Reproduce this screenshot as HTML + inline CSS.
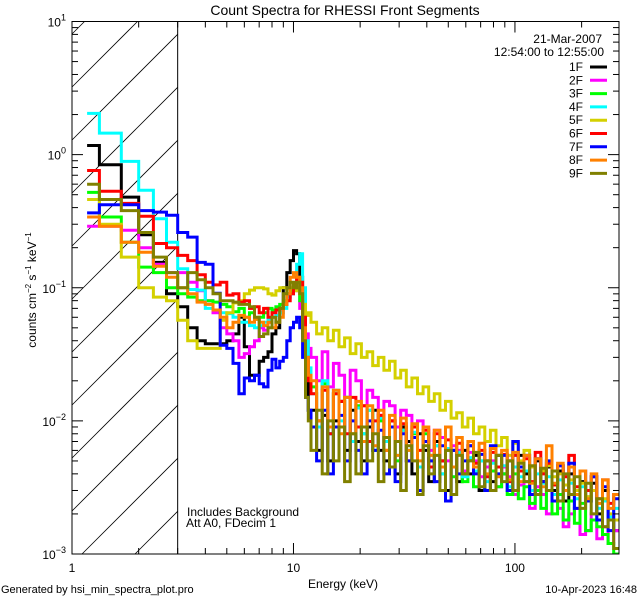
<!DOCTYPE html>
<html><head><meta charset="utf-8"><style>
html,body{margin:0;padding:0;background:#fff;width:640px;height:600px;overflow:hidden;}
svg{display:block;font-family:"Liberation Sans",sans-serif;}
</style></head><body>
<svg id="chart" width="640" height="600" viewBox="0 0 640 600">
<rect x="0" y="0" width="640" height="600" fill="#fff"/>
<defs><clipPath id="pc"><rect x="72" y="21.5" width="547" height="532.5"/></clipPath></defs>
<text x="345" y="15" font-size="14" text-anchor="middle">Count Spectra for RHESSI Front Segments</text>
<g id="hatch"></g>
<g id="series" clip-path="url(#pc)"></g>
<g id="axes"></g>
<g id="legend"></g>
<text x="602" y="43" font-size="12" text-anchor="end">21-Mar-2007</text>
<text x="604" y="56" font-size="12" text-anchor="end">12:54:00 to 12:55:00</text>
<text x="187" y="516" font-size="12">Includes Background</text>
<text x="186" y="527" font-size="12">Att A0, FDecim 1</text>
<text x="343" y="588" font-size="12" text-anchor="middle">Energy (keV)</text>
<text transform="translate(36,290) rotate(-90)" font-size="12" text-anchor="middle">counts cm<tspan font-size="8" dy="-5">−2</tspan><tspan dy="5"> s</tspan><tspan font-size="8" dy="-5">−1</tspan><tspan dy="5"> keV</tspan><tspan font-size="8" dy="-5">−1</tspan></text>
<text x="1" y="593" font-size="11">Generated by hsi_min_spectra_plot.pro</text>
<text x="637" y="593" font-size="11" text-anchor="end">10-Apr-2023 16:48</text>
</svg>
<script>
const edges = [1.17,1.33,1.67,2.0,2.33,2.67,3.0,3.33,3.67,4.0,4.33,4.67,5.0,5.33,5.67,6.0,6.33,6.67,7.0,7.33,7.67,8.0,8.33,8.67,9.0,9.33,9.67,10.0,10.33,10.67,11.0,11.33,11.67,12.0,
12.72,13.48,14.29,15.15,16.06,17.02,18.04,19.13,20.27,21.49,22.78,24.15,25.6,27.13,28.76,30.48,32.31,34.25,36.31,38.49,40.8,43.24,45.84,48.59,51.5,54.59,57.87,61.34,65.02,68.92,73.06,77.44,82.09,87.01,92.23,97.77,103.6,109.9,116.5,123.4,130.8,138.7,147.0,155.8,165.2,175.1,185.6,196.7,208.5,221.0,234.3,248.4,263.3,279.1,295.8];
const seriesNames = ["1F","2F","3F","4F","5F","6F","7F","8F","9F"];
const seriesColors = ["#000000","#ff00ff","#00ff00","#00ffff","#d4d000","#ff0000","#0000ff","#ff8000","#808000"];
const s1F = [1.17,0.84,0.48,0.25,0.155,0.09,0.072,0.05,0.04,0.038,0.038,0.038,0.04,0.045,0.06,0.036,0.022,0.022,0.028,0.03,0.033,0.045,0.05,0.07,0.1,0.13,0.16,0.19,0.18,0.12,0.05,0.02,0.012,
0.012,0.006,0.011,0.005,0.01,0.014,0.006,0.012,0.007,0.005,0.009,0.012,0.006,0.005,0.01,0.004,0.009,0.007,0.004,0.008,0.006,0.0035,0.007,0.005,0.003,0.006,0.0035,0.006,0.004,0.0055,0.003,0.005,0.0035,0.0055,0.004,0.005,0.003,0.0055,0.004,0.0028,0.005,0.0035,0.0045,0.003,0.0042,0.0025,0.004,0.003,0.0035,0.0025,0.0034,0.002,0.003,0.0018,0.0015];
const s2F = [0.29,0.29,0.27,0.2,0.15,0.13,0.13,0.11,0.095,0.08,0.065,0.05,0.045,0.04,0.03,0.032,0.036,0.04,0.05,0.048,0.055,0.06,0.07,0.065,0.075,0.085,0.09,0.1,0.095,0.07,0.05,0.045,0.035,
0.03,0.02,0.033,0.018,0.027,0.022,0.015,0.024,0.02,0.013,0.017,0.015,0.011,0.014,0.013,0.009,0.012,0.011,0.0075,0.01,0.009,0.006,0.0085,0.0075,0.005,0.0065,0.006,0.0042,0.0058,0.005,0.0038,0.0045,0.005,0.0032,0.0045,0.0038,0.0028,0.0033,0.0035,0.0022,0.0032,0.0028,0.002,0.0025,0.0022,0.0016,0.002,0.0022,0.0014,0.0015,0.002,0.0013,0.0016,0.0012,0.0015];
const s3F = [0.52,0.34,0.22,0.143,0.13,0.1,0.09,0.085,0.08,0.08,0.078,0.075,0.072,0.066,0.07,0.06,0.065,0.058,0.06,0.065,0.07,0.068,0.072,0.075,0.08,0.09,0.095,0.1,0.098,0.08,0.045,0.03,0.022,
0.018,0.01,0.019,0.008,0.016,0.009,0.015,0.007,0.013,0.008,0.012,0.006,0.01,0.007,0.009,0.005,0.0085,0.006,0.008,0.0045,0.008,0.005,0.0065,0.004,0.006,0.0038,0.0058,0.0035,0.0052,0.0032,0.005,0.003,0.0042,0.0032,0.004,0.0028,0.004,0.0026,0.0032,0.0024,0.003,0.0022,0.003,0.002,0.0028,0.0018,0.0025,0.0017,0.0024,0.0015,0.0018,0.0016,0.0014,0.0012,0.001];
const s4F = [2.04,1.45,0.89,0.54,0.33,0.22,0.139,0.097,0.096,0.07,0.068,0.065,0.064,0.06,0.055,0.055,0.052,0.05,0.052,0.055,0.058,0.06,0.062,0.065,0.07,0.085,0.09,0.1,0.15,0.18,0.1,0.04,0.025,
0.016,0.009,0.02,0.008,0.017,0.01,0.015,0.007,0.0125,0.008,0.012,0.006,0.0105,0.007,0.009,0.0055,0.0085,0.006,0.0082,0.0045,0.007,0.0055,0.0065,0.004,0.0062,0.0045,0.0058,0.0038,0.0053,0.0042,0.005,0.0035,0.0048,0.004,0.0046,0.0032,0.0045,0.0038,0.0042,0.003,0.004,0.0034,0.0038,0.0028,0.0036,0.003,0.0034,0.0026,0.0032,0.0025,0.003,0.0022,0.0025,0.0019,0.0022];
const s5F = [0.46,0.3,0.17,0.1,0.085,0.08,0.057,0.04,0.035,0.035,0.035,0.057,0.065,0.077,0.08,0.09,0.096,0.1,0.1,0.098,0.09,0.088,0.095,0.1,0.1,0.098,0.1,0.095,0.1,0.09,0.075,0.062,0.065,
0.055,0.045,0.05,0.04,0.048,0.036,0.042,0.032,0.038,0.03,0.033,0.026,0.03,0.024,0.028,0.021,0.024,0.018,0.021,0.016,0.018,0.014,0.016,0.012,0.014,0.0105,0.0115,0.009,0.0105,0.008,0.009,0.007,0.0085,0.0065,0.0075,0.0055,0.0068,0.005,0.006,0.0045,0.0052,0.0042,0.0046,0.0038,0.004,0.0033,0.0036,0.003,0.0034,0.0027,0.003,0.0024,0.0026,0.002,0.0018];
const s6F = [0.76,0.53,0.43,0.345,0.215,0.2,0.175,0.16,0.125,0.11,0.105,0.11,0.088,0.09,0.078,0.08,0.07,0.072,0.065,0.07,0.06,0.065,0.068,0.07,0.075,0.08,0.09,0.1,0.12,0.11,0.06,0.03,0.02,
0.016,0.01,0.017,0.008,0.016,0.014,0.008,0.015,0.009,0.013,0.007,0.01,0.011,0.006,0.01,0.007,0.0095,0.005,0.009,0.006,0.0085,0.0045,0.008,0.005,0.0072,0.0045,0.0068,0.004,0.0065,0.0048,0.006,0.0038,0.0058,0.0045,0.0056,0.0035,0.0055,0.0042,0.0052,0.0035,0.0058,0.004,0.0048,0.0033,0.0046,0.0038,0.0055,0.0032,0.0042,0.003,0.0038,0.0026,0.0036,0.0024,0.0028];
const s7F = [0.365,0.42,0.42,0.38,0.37,0.35,0.26,0.24,0.155,0.15,0.091,0.037,0.035,0.027,0.016,0.021,0.02,0.022,0.019,0.018,0.024,0.029,0.025,0.028,0.03,0.04,0.05,0.055,0.06,0.05,0.03,0.015,0.012,
0.009,0.005,0.012,0.004,0.009,0.011,0.005,0.01,0.006,0.004,0.01,0.006,0.0085,0.004,0.009,0.0035,0.008,0.005,0.0075,0.003,0.007,0.005,0.0035,0.0065,0.0025,0.006,0.004,0.005,0.0065,0.004,0.0056,0.003,0.0065,0.004,0.0055,0.003,0.007,0.0045,0.0055,0.0028,0.0052,0.0035,0.005,0.0025,0.0046,0.003,0.0048,0.0022,0.0042,0.0025,0.0038,0.0018,0.0032,0.0015,0.0026];
const s8F = [0.34,0.29,0.22,0.185,0.145,0.12,0.1,0.09,0.078,0.075,0.068,0.06,0.05,0.055,0.062,0.06,0.055,0.058,0.055,0.052,0.055,0.05,0.055,0.06,0.075,0.09,0.12,0.13,0.12,0.1,0.05,0.03,0.022,
0.02,0.01,0.018,0.009,0.017,0.008,0.015,0.008,0.014,0.007,0.013,0.0065,0.012,0.006,0.011,0.0055,0.0105,0.006,0.0095,0.005,0.009,0.0055,0.0085,0.0045,0.009,0.0045,0.0075,0.004,0.007,0.0045,0.0068,0.004,0.0062,0.0038,0.006,0.0036,0.0058,0.0035,0.0055,0.0034,0.0052,0.0032,0.0065,0.0034,0.0048,0.003,0.0045,0.0028,0.0042,0.0026,0.004,0.0024,0.0036,0.0022,0.0028];
const s9F = [0.6,0.46,0.38,0.26,0.17,0.13,0.1,0.13,0.115,0.1,0.09,0.08,0.08,0.078,0.075,0.075,0.072,0.06,0.043,0.045,0.05,0.06,0.055,0.07,0.09,0.1,0.11,0.1,0.11,0.09,0.04,0.015,0.01,
0.006,0.012,0.004,0.01,0.005,0.009,0.0035,0.008,0.004,0.009,0.005,0.008,0.0035,0.0075,0.0045,0.007,0.003,0.0065,0.005,0.0028,0.0065,0.004,0.0055,0.003,0.006,0.0028,0.0055,0.004,0.005,0.0058,0.0032,0.005,0.003,0.0055,0.0035,0.005,0.003,0.0048,0.0035,0.0046,0.0028,0.0044,0.003,0.0042,0.0025,0.004,0.0028,0.0038,0.0022,0.0034,0.002,0.0026,0.0016,0.0018,0.0011];
const xTickLabels = ["1","10","100"];
const yTickExps = ["1","0","−1","−2","−3"];

const NS = "http://www.w3.org/2000/svg";
const L = 72, R = 619, T = 21.5, B = 554;
const XMIN = 1, XMAX = 295, YMAX = 10, YMIN = 0.001;
function xs(e){ return L + (Math.log10(e) - Math.log10(XMIN)) / (Math.log10(XMAX) - Math.log10(XMIN)) * (R - L); }
function ys(v){ return T + (Math.log10(YMAX) - Math.log10(v)) / (Math.log10(YMAX) - Math.log10(YMIN)) * (B - T); }
function mk(tag, attrs, parent){ const el = document.createElementNS(NS, tag); for (const k in attrs) el.setAttribute(k, attrs[k]); parent.appendChild(el); return el; }

const hatch = document.getElementById('hatch');
const hx2 = xs(3);
for (let k = -12; k < 12; k++) {
  const y0 = 87 + k * 53;
  // line y = y0 - (x - L), clip to [L,hx2] x [T,B]
  let xa = L, xb = hx2;
  xa = Math.max(xa, L + (y0 - B));
  xb = Math.min(xb, L + (y0 - T));
  if (xb - xa < 0.5) continue;
  const ln = mk('line', {x1: xa, y1: y0 - (xa - L), x2: xb, y2: y0 - (xb - L), stroke: '#000', 'stroke-width': 0.8}, hatch);
  
  
}
const hb = mk('line', {x1: hx2, y1: T, x2: hx2, y2: B, stroke: '#000', 'stroke-width': 1}, hatch);



const allSeries = [s1F, s2F, s3F, s4F, s5F, s6F, s7F, s8F, s9F];
const sg = document.getElementById('series');
allSeries.forEach((vals, si) => {
  const n = Math.min(vals.length, edges.length - 1);
  let d = '';
  for (let i = 0; i < n; i++) {
    const y = Math.min(B, ys(vals[i])).toFixed(1);
    d += (i === 0 ? 'M' : 'L') + xs(edges[i]).toFixed(1) + ',' + y + 'L' + xs(edges[i + 1]).toFixed(1) + ',' + y;
  }
  const p = mk('path', {d: d, fill: 'none', stroke: seriesColors[si], 'stroke-width': 3, 'stroke-linejoin': 'miter'}, sg);
  
  
});

const ax = document.getElementById('axes');
const frame = mk('rect', {x: L, y: T, width: R - L, height: B - T, fill: 'none', stroke: '#000', 'stroke-width': 1}, ax);


for (let dec = 1; dec <= 100; dec *= 10) {
  for (let m = 1; m <= 9; m++) {
    const e = dec * m;
    if (e > XMAX) break;
    const x = xs(e), len = m === 1 ? 11 : 6;
    const t1 = mk('line', {x1: x, y1: B, x2: x, y2: B - len, stroke: '#000', 'stroke-width': 1}, ax);
    
    
    const t2 = mk('line', {x1: x, y1: T, x2: x, y2: T + len, stroke: '#000', 'stroke-width': 1}, ax);
    
    
  }
}
xTickLabels.forEach((lab) => {
  const t = mk('text', {x: xs(parseFloat(lab)), y: 572, 'font-size': 12, 'text-anchor': 'middle'}, ax);
  t.textContent = lab;
  
  
});
for (let p = -3; p <= 0; p++) {
  for (let m = 1; m <= 9; m++) {
    const v = Math.pow(10, p) * m;
    const y = ys(v), len = m === 1 ? 11 : 6;
    const a = mk('line', {x1: L, y1: y, x2: L + len, y2: y, stroke: '#000', 'stroke-width': 1}, ax);
    
    
    const b = mk('line', {x1: R, y1: y, x2: R - len, y2: y, stroke: '#000', 'stroke-width': 1}, ax);
    
    
  }
}
yTickExps.forEach((ex) => {
  const v = Math.pow(10, parseFloat(ex.replace('−', '-')));
  const t = mk('text', {x: 66, y: ys(v) + 5, 'font-size': 12, 'text-anchor': 'end'}, ax);
  
  
  const base = mk('tspan', {}, t); base.textContent = '10';
  const sup = mk('tspan', {dy: -6, 'font-size': 9}, t); sup.textContent = ex;
});

const lg = document.getElementById('legend');
seriesNames.forEach((nm, i) => {
  const y = 72 + i * 13.3;
  const t = mk('text', {x: 583, y: y - 1, 'font-size': 12, 'text-anchor': 'end'}, lg);
  t.textContent = nm;
  
  
  const l = mk('line', {x1: 590, y1: y - 5, x2: 607, y2: y - 5, stroke: seriesColors[i], 'stroke-width': 3}, lg);
  
  
});
</script>
</body></html>
